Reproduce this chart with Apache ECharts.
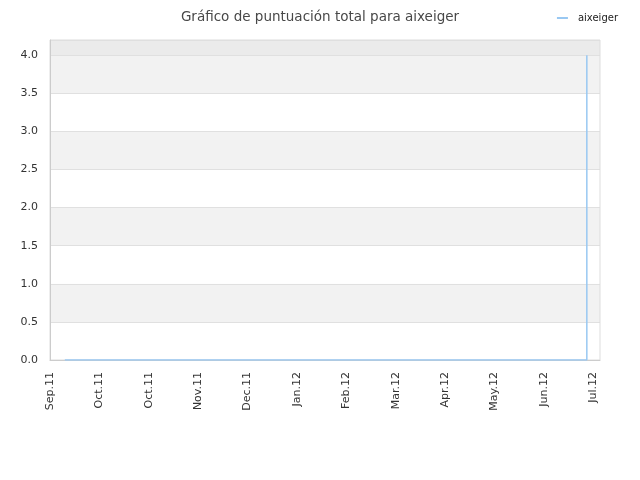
<!DOCTYPE html>
<html>
<head>
<meta charset="utf-8">
<script src="https://cdn.jsdelivr.net/npm/echarts@6/dist/echarts.min.js"></script>
<style>html,body{margin:0;padding:0;background:#fff}#c{width:640px;height:480px}</style>
</head>
<body>
<div id="c"></div>
<script>
// tick labels every 30 days (day 0 = Sep.11 tick)
var tickLabels = ['Sep.11','Oct.11','Oct.11','Nov.11','Dec.11','Jan.12','Feb.12','Mar.12','Apr.12','May.12','Jun.12','Jul.12'];
var tickStep = 30;
// series: day offsets and total score values
var days = [9, 326, 326];
var scores = [0, 0, 4];
var seriesName = 'aixeiger';

var data = days.map(function (d, i) { return [d, scores[i]]; });

var chart = echarts.init(document.getElementById('c'));
chart.setOption({
  animation: false,
  backgroundColor: '#fff',
  title: {
    text: 'Gráfico de puntuación total para aixeiger',
    left: 'center', top: 5,
    textStyle: { fontFamily: 'DejaVu Sans', fontSize: 13.5, fontWeight: 'normal', color: '#484848' }
  },
  legend: {
    right: 17, top: 8,
    itemWidth: 11, itemHeight: 2, itemGap: 6,
    icon: 'rect',
    textStyle: { fontFamily: 'DejaVu Sans', fontSize: 10, color: '#222', padding: [0, 0, 0, 5] },
    data: [seriesName]
  },
  grid: { left: 50, right: 40, top: 40, bottom: 120, containLabel: false },
  xAxis: {
    type: 'value', min: 0, max: 334, interval: tickStep,
    axisLine: { show: true, lineStyle: { color: '#ccc' } },
    axisTick: { show: false },
    splitLine: { show: false },
    axisLabel: {
      rotate: 90, fontFamily: 'DejaVu Sans', fontSize: 11, color: '#333', margin: 12,
      showMaxLabel: false,
      formatter: function (v) { var i = Math.round(v / tickStep); return (v % tickStep === 0 && tickLabels[i]) ? tickLabels[i] : ''; }
    }
  },
  yAxis: {
    type: 'value', min: 0, max: 4.2, interval: 0.5,
    axisLine: { show: true, lineStyle: { color: '#ccc' } },
    axisTick: { show: false },
    splitLine: { show: true, lineStyle: { color: '#e0e0e0' } },
    splitArea: { show: true, areaStyle: { color: ['#ffffff','#f2f2f2','#ffffff','#f2f2f2','#ffffff','#f2f2f2','#ffffff','#f2f2f2','#ebebeb'] } },
    axisLabel: {
      fontFamily: 'DejaVu Sans', fontSize: 11, color: '#333', margin: 12,
      showMaxLabel: false,
      formatter: function (v) { return (Math.abs(v * 2 - Math.round(v * 2)) < 1e-6) ? v.toFixed(1) : ''; }
    }
  },
  series: [{
    name: seriesName, type: 'line', data: data,
    showSymbol: false, symbol: 'none',
    lineStyle: { color: '#99c8f2', width: 1.5 },
    itemStyle: { color: '#99c8f2' }
  }]
});
// right/top border of plot
chart.setOption({
  graphic: [{
    type: 'rect', shape: { x: 50, y: 40, width: 550, height: 320 },
    style: { fill: 'none', stroke: '#ddd', lineWidth: 1 }, silent: true, z: 0
  }]
});
</script>
</body>
</html>
